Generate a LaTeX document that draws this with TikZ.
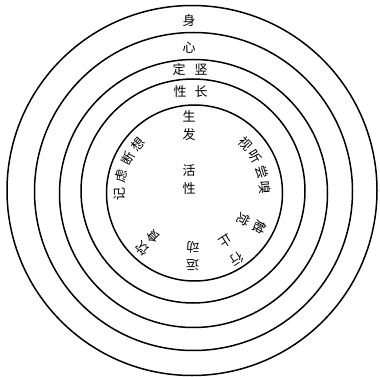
\documentclass[tikz,border=0pt]{standalone}
\usepackage{fontspec}
\newfontfamily\cjk{Noto Sans CJK SC}
\usetikzlibrary{calc}
\begin{document}
\begin{tikzpicture}[x=1pt,y=-1pt,
  ring/.style={draw, line width=1.5pt},
  lbl/.style={font=\cjk\fontsize{13}{13}\selectfont, inner sep=0pt}]
\useasboundingbox (0,0) rectangle (380,377);
\coordinate (c) at (194,193);
% rings
\draw[ring] (192,190.5) circle (185pt);
\draw[ring] (193.5,191.5) circle (159pt);
\draw[ring] (193.5,193.5) circle (134pt);
\draw[ring] (193,191) circle (112pt);
\draw[ring] (194.5,193) circle (88pt);
% upright labels
\node[lbl] (shen) at (189,21) {身};
\node[lbl] (xin) at (189,48) {心};
\node[lbl] (ding) at (179,70) {定};
\node[lbl] (shu) at (201,70) {竖};
\node[lbl] (xing1) at (180,92) {性};
\node[lbl] (zhang) at (201,92) {长};
\node[lbl] (sheng) at (189,116) {生};
\node[lbl] (fa) at (189,135) {发};
\node[lbl] (huo) at (189,171) {活};
\node[lbl] (xing2) at (189,189) {性};
% left arc
\node[lbl, rotate=91] (ji) at ($(c)+(181:75pt)$) {记};
\node[lbl, rotate=77] (lv) at ($(c)+(167:75pt)$) {虑};
\node[lbl, rotate=62] (duan) at ($(c)+(152:74pt)$) {断};
\node[lbl, rotate=49] (xiang) at ($(c)+(139:74pt)$) {想};
% right arc
\node[lbl, rotate=-46] (shi) at ($(c)+(44:71pt)$) {视};
\node[lbl, rotate=-59] (ting) at ($(c)+(31:71pt)$) {听};
\node[lbl, rotate=-73] (chang) at ($(c)+(17:71pt)$) {尝};
\node[lbl, rotate=-86] (xiu) at ($(c)+(4:71pt)$) {嗅};
% radial pairs
\node[lbl, rotate=-118] (chu) at ($(c)+(-28:74pt)$) {触};
\node[lbl, rotate=-118] (jue) at ($(c)+(-28:56pt)$) {觉};
\node[lbl, rotate=-147] (xing3) at ($(c)+(-57:79pt)$) {行};
\node[lbl, rotate=-147] (zhi) at ($(c)+(-57:58pt)$) {止};
\node[lbl, rotate=-180] (yun) at ($(c)+(-91:72pt)$) {运};
\node[lbl, rotate=-180] (dong) at ($(c)+(-91:54pt)$) {动};
\node[lbl, rotate=137] (yin) at ($(c)+(-133:76pt)$) {饮};
\node[lbl, rotate=137] (shi2) at ($(c)+(-133:60pt)$) {食};
\end{tikzpicture}
\end{document}
